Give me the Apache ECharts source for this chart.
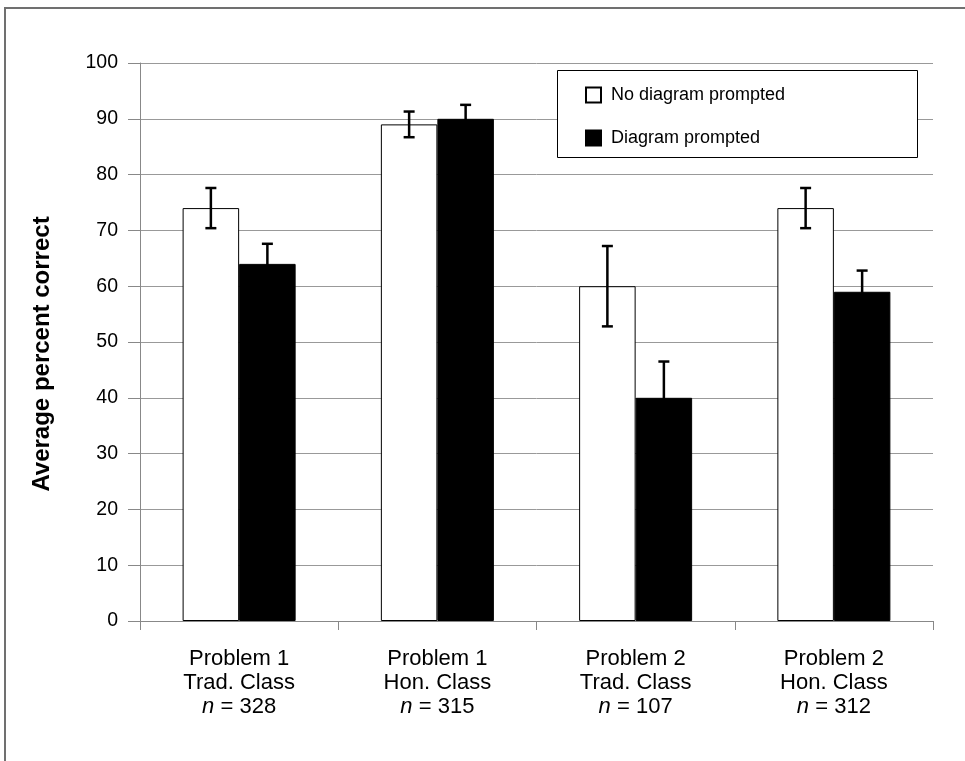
<!DOCTYPE html>
<html>
<head>
<meta charset="utf-8">
<script src="https://cdn.jsdelivr.net/npm/echarts@6/dist/echarts.min.js"></script>
<style>html,body{margin:0;padding:0;background:#fff;}#c{width:965px;height:761px;}</style>
</head>
<body>
<div id="c"></div>
<script>
var categories = ['Problem 1\nTrad. Class\n{i|n} = 328', 'Problem 1\nHon. Class\n{i|n} = 315', 'Problem 2\nTrad. Class\n{i|n} = 107', 'Problem 2\nHon. Class\n{i|n} = 312'];
var noDiagram = [74, 89, 60, 74];
var diagram = [64, 90, 40, 59];
var noDiagramErr = [3.6, 2.3, 7.2, 3.6];
var diagramErr = [3.6, 2.5, 6.5, 3.8];
var yTicks = [0, 10, 20, 30, 40, 50, 60, 70, 80, 90, 100];
var yTitle = 'Average percent correct';

var FONT = 'Liberation Sans, Arial, sans-serif';
var chart = echarts.init(document.getElementById('c'));

var errData = [];
noDiagram.forEach(function (v, i) { errData.push([i, v - noDiagramErr[i], v + noDiagramErr[i], 0]); });
diagram.forEach(function (v, i) { errData.push([i, v - diagramErr[i], v + diagramErr[i], 1]); });

var CAT_GAP = 0.43;

chart.setOption({
  backgroundColor: '#fff',
  animation: false,
  textStyle: { fontFamily: FONT },
  grid: { left: 140, right: 32, top: 63, bottom: 140 },
  legend: {
    orient: 'vertical',
    left: 580,
    top: 81,
    itemWidth: 15,
    itemHeight: 15,
    itemGap: 25,
    icon: 'rect',
    textStyle: { fontSize: 18, color: '#000', fontFamily: FONT, padding: [0, 0, 0, 5] },
    data: ['No diagram prompted', 'Diagram prompted']
  },
  graphic: [
    { type: 'rect', shape: { x: 557.5, y: 70.5, width: 360, height: 87 }, style: { fill: '#fff', stroke: '#000', lineWidth: 1 }, z: 1 },
    { type: 'line', shape: { x1: 4, y1: 8, x2: 965, y2: 8 }, style: { stroke: '#707070', lineWidth: 2 } },
    { type: 'line', shape: { x1: 5, y1: 7, x2: 5, y2: 761 }, style: { stroke: '#707070', lineWidth: 2 } },
    { type: 'text', x: 42, y: 354, rotation: Math.PI / 2,
      style: { text: yTitle, fontSize: 24, fontWeight: 'bold', fill: '#000', fontFamily: FONT, align: 'center', verticalAlign: 'middle' } }
  ],
  xAxis: {
    type: 'category',
    data: categories,
    axisLine: { lineStyle: { color: '#888', width: 1 } },
    axisTick: { show: true, length: 9, alignWithLabel: false, lineStyle: { color: '#888' } },
    axisLabel: {
      fontSize: 22,
      color: '#000',
      lineHeight: 24,
      margin: 26,
      interval: 0,
      rich: { i: { fontStyle: 'italic', fontSize: 22, lineHeight: 24, color: '#000' } }
    },
    splitLine: { show: false }
  },
  yAxis: {
    type: 'value',
    min: 0,
    max: 100,
    interval: 10,
    axisLine: { show: true, lineStyle: { color: '#888' } },
    axisTick: { show: true, length: 12, lineStyle: { color: '#888' } },
    axisLabel: { fontSize: 19.5, color: '#000', margin: 22, formatter: function (v) { return yTicks.indexOf(v) >= 0 ? String(v) : ''; } },
    splitLine: { show: true, lineStyle: { color: '#999', width: 1 } }
  },
  series: [
    {
      name: 'No diagram prompted',
      type: 'bar',
      data: noDiagram,
      barGap: '0%',
      barCategoryGap: (CAT_GAP * 100) + '%',
      itemStyle: { color: '#fff', borderColor: '#000', borderWidth: 1 }
    },
    {
      name: 'Diagram prompted',
      type: 'bar',
      data: diagram,
      barGap: '0%',
      barCategoryGap: (CAT_GAP * 100) + '%',
      itemStyle: { color: '#000', borderColor: '#000', borderWidth: 1 }
    },
    {
      type: 'custom',
      z: 10,
      data: errData,
      renderItem: function (params, api) {
        var cat = api.value(0);
        var lo = api.coord([cat, api.value(1)]);
        var hi = api.coord([cat, api.value(2)]);
        var catW = api.size([1, 0])[0];
        var bw = catW * (1 - CAT_GAP) / 2;
        var x = lo[0] + (api.value(3) === 0 ? -bw / 2 : bw / 2);
        var cap = 5.5;
        var st = { stroke: '#000', lineWidth: 2.5 };
        return {
          type: 'group',
          children: [
            { type: 'line', shape: { x1: x, y1: lo[1], x2: x, y2: hi[1] }, style: st },
            { type: 'line', shape: { x1: x - cap, y1: hi[1], x2: x + cap, y2: hi[1] }, style: st },
            { type: 'line', shape: { x1: x - cap, y1: lo[1], x2: x + cap, y2: lo[1] }, style: st }
          ]
        };
      }
    }
  ]
});
</script>
</body>
</html>
